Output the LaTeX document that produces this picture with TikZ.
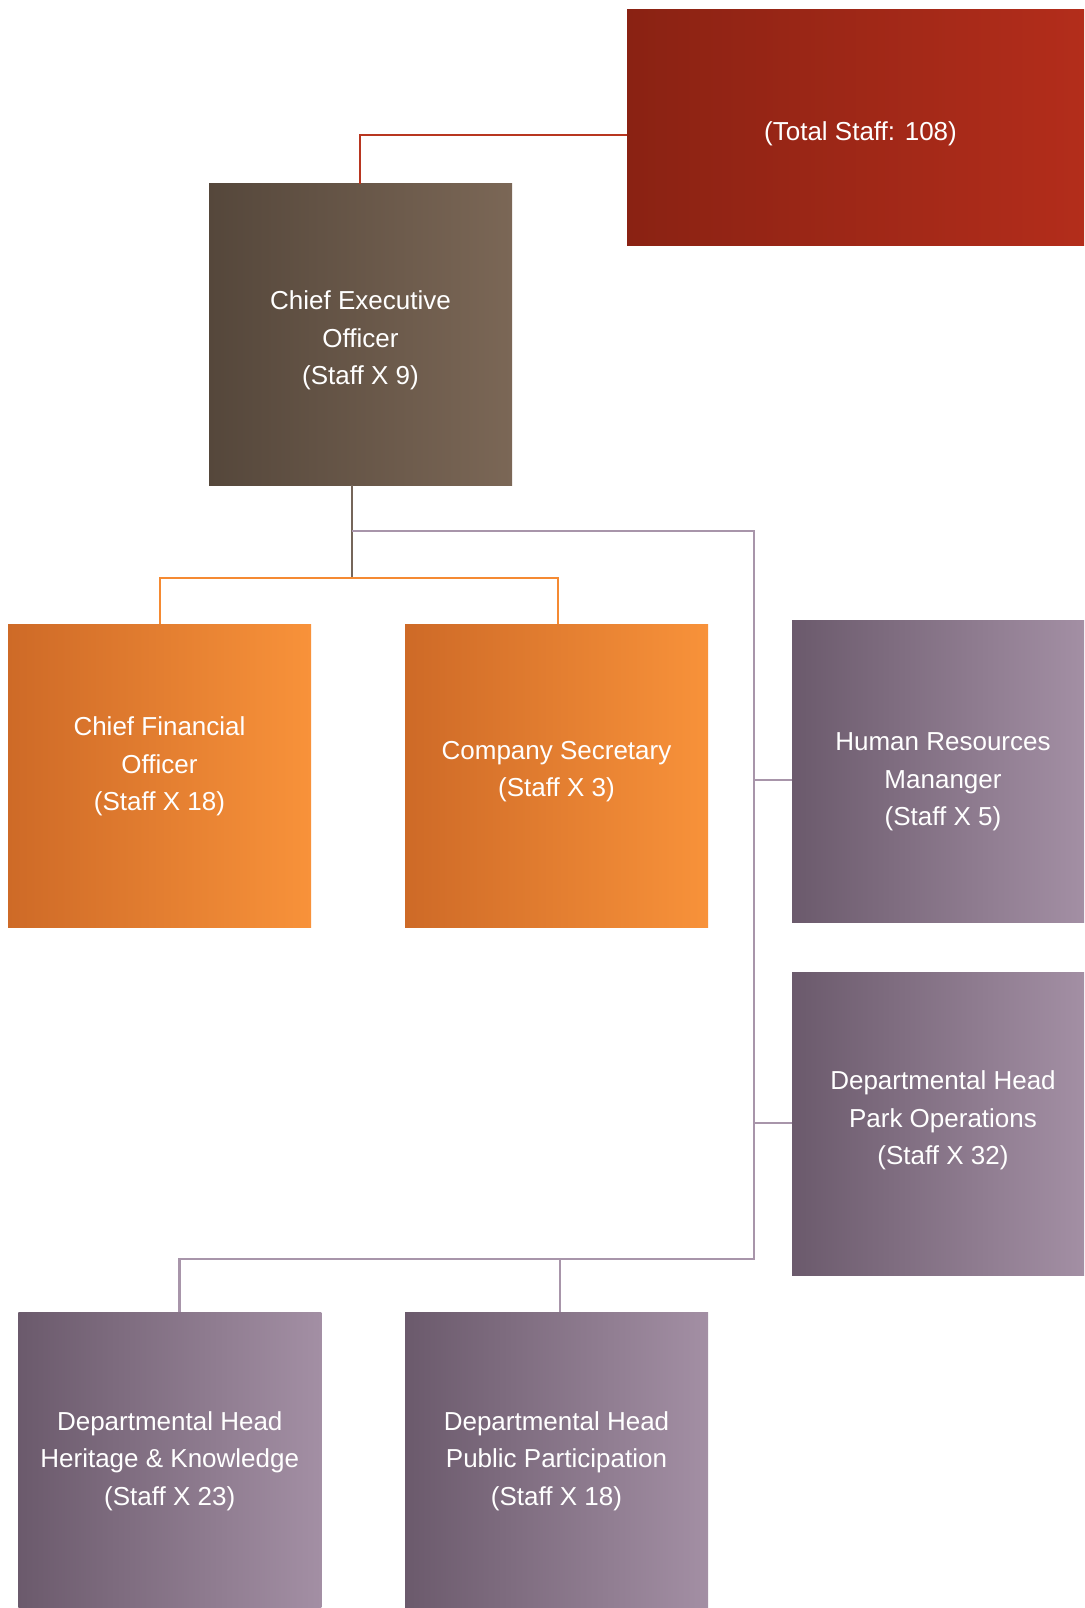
\documentclass[tikz,border=0pt]{standalone}
\usepackage{fontspec}
\setmainfont{Liberation Sans}
\usetikzlibrary{calc}
\definecolor{redL}{HTML}{8A2213}
\definecolor{redR}{HTML}{B32D1B}
\definecolor{brnL}{HTML}{55473B}
\definecolor{brnR}{HTML}{7B6756}
\definecolor{orgL}{HTML}{CE6A27}
\definecolor{orgR}{HTML}{F8923A}
\definecolor{purL}{HTML}{6B5A6C}
\definecolor{purR}{HTML}{A38FA4}
\definecolor{lnRed}{HTML}{B83620}
\definecolor{lnBrn}{HTML}{75665A}
\definecolor{lnOrg}{HTML}{F58A32}
\definecolor{lnPur}{HTML}{A895AA}
\tikzset{
  box/.style={rectangle, inner sep=0pt},
  redbox/.style={box, left color=redL, right color=redR},
  brnbox/.style={box, left color=brnL, right color=brnR},
  orgbox/.style={box, left color=orgL, right color=orgR},
  purbox/.style={box, left color=purL, right color=purR},
  lbl/.style={inner sep=0pt, align=center, text=white,
    font=\fontsize{26}{37.5}\selectfont},
  conn/.style={line width=2.5pt},
}
\begin{document}
\begin{tikzpicture}[x=1pt,y=-1pt]
\useasboundingbox (0,0) rectangle (1084,1608);
% boxes
\node[redbox, minimum width=457pt, minimum height=235pt] (total) at (855.5,127.5) {};
\node[brnbox, minimum width=303pt, minimum height=301pt] (ceo) at (360.5,334.5) {};
\node[orgbox, minimum width=303pt, minimum height=303pt] (cfo) at (159.5,775.5) {};
\node[orgbox, minimum width=303pt, minimum height=303pt] (cs) at (556.5,775.5) {};
\node[purbox, minimum width=292pt, minimum height=302pt] (hr) at (938,771) {};
\node[purbox, minimum width=292pt, minimum height=303pt] (park) at (938,1123.5) {};
\node[purbox, minimum width=303pt, minimum height=296pt] (hk) at (169.75,1460) {};
\node[purbox, minimum width=303pt, minimum height=296pt] (pp) at (556.5,1460) {};
% texts
\node[lbl] (totalT) at ($(total.center)+(5,6)$) {(Total Staff: 108)};
\node[lbl] (ceoT) at ($(ceo.center)+(0,6)$) {Chief Executive\\Officer\\(Staff X 9)};
\node[lbl] (cfoT) at ($(cfo.center)+(0,-9)$) {Chief Financial\\Officer\\(Staff X 18)};
\node[lbl] (csT) at ($(cs.center)+(0,-4)$) {Company Secretary\\(Staff X 3)};
\node[lbl] (hrT) at ($(hr.center)+(5,11)$) {Human Resources\\Mananger\\(Staff X 5)};
\node[lbl] (parkT) at ($(park.center)+(5,-3)$) {Departmental Head\\Park Operations\\(Staff X 32)};
\node[lbl] (hkT) at ($(hk.center)+(0,1)$) {Departmental Head\\Heritage \& Knowledge\\(Staff X 23)};
\node[lbl] (ppT) at ($(pp.center)+(0,1)$) {Departmental Head\\Public Participation\\(Staff X 18)};
% junction coordinates
\coordinate (jtop) at (360,135);
\coordinate (jstem) at (352,578);
\coordinate (jpur) at (352,531);
\coordinate (jright) at (754,531);
\coordinate (jhr) at (754,780);
\coordinate (jpark) at (754,1123);
\coordinate (jbot) at (754,1259);
\coordinate (jhk) at (179.5,1259);
\coordinate (jpp) at (560,1259);
\coordinate (jcfo) at (160,578);
\coordinate (jcs) at (558,578);
% connectors
\draw[conn, lnRed] (ceo.north -| jtop) -- (jtop) -- (jtop -| total.west);
\draw[conn, lnBrn] (ceo.south -| jstem) -- (jstem);
\draw[conn, lnOrg] (cfo.north -| jcfo) -- (jcfo) -- (jcs) -- (cs.north -| jcs);
\draw[conn, lnPur] (jpur) -- (jright) -- (jbot) -- (jhk) -- (hk.north -| jhk);
\draw[conn, lnPur] (jpp) -- (pp.north -| jpp);
\draw[conn, lnPur] (jhr) -- (jhr -| hr.west);
\draw[conn, lnPur] (jpark) -- (jpark -| park.west);
\end{tikzpicture}
\end{document}
